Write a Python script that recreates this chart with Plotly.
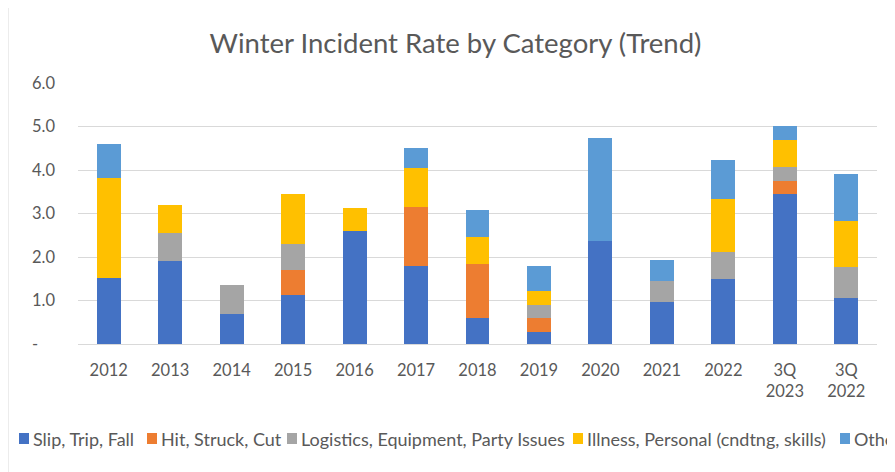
import plotly.graph_objects as go

categories = ["2012", "2013", "2014", "2015", "2016", "2017", "2018", "2019",
              "2020", "2021", "2022", "3Q<br>2023", "3Q<br>2022"]
series_names = ["Slip, Trip, Fall", "Hit, Struck, Cut",
                "Logistics, Equipment, Party Issues",
                "Illness, Personal (cndtng, skills)", "Other"]
slip = [1.52, 1.91, 0.68, 1.13, 2.60, 1.80, 0.60, 0.28, 2.37, 0.96, 1.50, 3.45, 1.06]
hit = [0, 0, 0, 0.58, 0, 1.35, 1.24, 0.32, 0, 0, 0, 0.31, 0]
logistics = [0, 0.65, 0.68, 0.58, 0, 0, 0, 0.29, 0, 0.50, 0.62, 0.32, 0.71]
illness = [2.31, 0.63, 0, 1.15, 0.52, 0.91, 0.62, 0.32, 0, 0, 1.21, 0.62, 1.07]
other = [0.77, 0, 0, 0, 0, 0.46, 0.62, 0.59, 2.38, 0.48, 0.91, 0.32, 1.06]
series_values = [slip, hit, logistics, illness, other]
colors = ["#4472C4", "#ED7D31", "#A5A5A5", "#FFC000", "#5B9BD5"]
y_tickvals = [0, 1, 2, 3, 4, 5, 6]
y_ticktext = ["-\u00a0\u00a0\u00a0\u00a0", "1.0", "2.0", "3.0", "4.0", "5.0", "6.0"]

# page offset (browser body margin)
OFF = 8
PW, PH = 895, 472
W, H = PW - OFF, PH - OFF
# plot area in page pixels
PL, PR, PT, PB = 78, 877, 83, 344
L, R, T, B = PL - OFF, PW - PR, PT - OFF, PH - PB
pw, ph = PR - PL, PB - PT


def px_x(p):
    return (p - PL) / pw


def px_y(p):
    return (PB - p) / ph


FONT = "Lato, 'Open Sans', sans-serif"
GREY = "#595959"

fig = go.Figure()
for name, vals, col in zip(series_names, series_values, colors):
    fig.add_trace(go.Bar(x=categories, y=vals, name=name,
                         marker=dict(color=col, line=dict(width=0))))

shapes = [dict(type="rect", xref="paper", yref="paper",
               x0=px_x(8), x1=px_x(910), y0=px_y(500), y1=px_y(6),
               line=dict(color="#d9d9d9", width=1), fillcolor="rgba(0,0,0,0)",
               layer="below")]
annotations = []
legend_x = [19, 147, 287, 573, 840]
for xpos, name, col in zip(legend_x, series_names, colors):
    shapes.append(dict(type="rect", xref="paper", yref="paper",
                       x0=px_x(xpos), x1=px_x(xpos + 10),
                       y0=px_y(444), y1=px_y(433),
                       fillcolor=col, line=dict(width=0)))
    annotations.append(dict(text=name, xref="paper", yref="paper",
                            x=px_x(xpos + 12), y=px_y(438.5),
                            xanchor="left", yanchor="middle", showarrow=False,
                            font=dict(family=FONT, size=18, color=GREY)))

fig.update_layout(
    width=W, height=H,
    margin=dict(l=L, r=R, t=T, b=B),
    paper_bgcolor="white", plot_bgcolor="white",
    barmode="stack", bargap=0.61,
    showlegend=False,
    title=dict(text="Winter Incident Rate by Category (Trend)",
               x=(455.5 - OFF) / W, xanchor="center", y=1 - (43 - OFF) / H,
               yanchor="middle",
               font=dict(family=FONT, size=27.5, color=GREY)),
    font=dict(family=FONT, size=16, color=GREY),
    xaxis=dict(showgrid=False, showline=False, zeroline=False,
               tickfont=dict(family=FONT, size=16.5, color=GREY),
               ticklabelstandoff=14),
    yaxis=dict(range=[0, 6.005], tickvals=y_tickvals, ticktext=y_ticktext,
               showgrid=True, gridcolor="#d9d9d9", gridwidth=1,
               zeroline=True, zerolinecolor="#d9d9d9", zerolinewidth=1,
               showline=False,
               tickfont=dict(family=FONT, size=16.5, color=GREY),
               ticklabelstandoff=22),
    shapes=shapes, annotations=annotations,
)

fig.write_html("out.html")
